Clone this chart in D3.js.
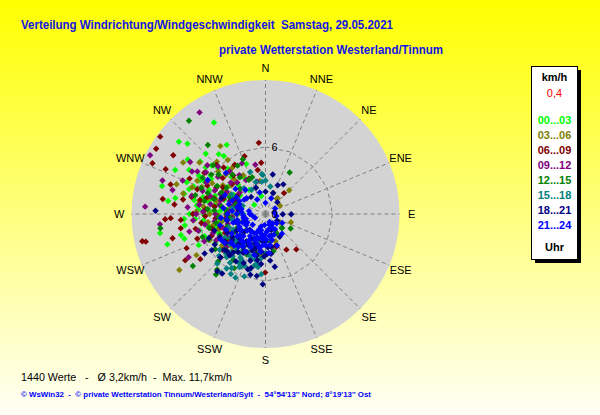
<!DOCTYPE html>
<html>
<head>
<meta charset="utf-8">
<script src="https://cdn.jsdelivr.net/npm/d3@7"></script>
<style>
  body { margin: 0; }
  svg { display: block; font-family: "Liberation Sans", Arial, sans-serif; }
</style>
</head>
<body>
<script>
// chart values: [direction in deg, speed in km/h]
const lime00_03 = [[330.6,9.4],[309.8,10.1],[312,9.4],[330.7,7.1],[315.3,7.6],[324.3,6.4],[308.8,7.5],[339,4.8],[285.1,9.6],[277.6,8.8],[259.7,9.6],[252.8,9.2],[253,7.6],[256,7.8],[266.5,7.3],
  [297,6.6],[293,5.5],[310,5.4],[309,4.1],[280,4.6],[281,6.5],[269,5.5],[289,3.9],[301,3.3],[279,2.4],[270,6.8],[262,7.3],[256,6.1],[260,4.2],[330,3.7],[326,2.6],[312,6.5],[300,7.9],[320,5.3],[254,2.6],[309,1.3],[347,1.65],
  [290,4.8],[275,4],[285,5.8],[300,5],[318,4.5],[265,3.2],[295,2.8],[305,6],[272,5],[283,3],[248,4.5],[240,5.2],[305,8.5],[296,9],[288,7.2],
  [298,6.2],[303,5.8],[291,6.9],[284,7.5],[277,6.2],[271,4.3],[264,5.6],[258,5.2],[250,5.8],[245,6.6],[286,5.1],[294,4.4],[302,4.3],[314,5.9],[322,6.8],[317,3.6],[306,2.8],[288,2.2],[276,3.4],[268,2.9],[262,3.8],[255,4.6],[280,8.2],[292,7.6],[300,6.9],[308,6.8],[282,5.2],[274,6.0],[266,6.3],[296,3.6]];
const olive03_06 = [[326.4,7.3],[325,5.9],[302,8.7],[317,6.4],[288.5,8.4],[237,9.2],[239.2,7.2],[187.4,3.7],[38,1.8],[107.9,2.4],[36,1.7],[159.7,2.6],
  [300,5.5],[285,4.5],[270,5],[310,4],[295,3],[260,4],[250,3.5],[275,2.5],[320,3],[340,2.5],[245,5.5],[265,6.5],[230,3],[280,6],[305,6.5],[290,7],[315,5],[330,4],[350,3],[20,2],[60,1.5],[120,1.5],[200,2.5],[215,3.5],[255,2],[272,3.5],[298,4.2],[282,3.2],[262,5.2],[308,2.2],[225,4.2],[150,1.8],[45,3.0],
  [293,6.2],[286,5.3],[279,4.7],[268,4.2],[258,4.8],[304,4.6],[312,5.7],[299,3.6],[289,2.6],[277,5.6],[266,3.0],[252,4.4],[318,4.2],[284,7.6],[296,6.8],[308,7.5],[272,6.2],[244,3.6],[234,4.8],[324,5.1]];
const maroon06_09 = [[354.6,6.4],[306.3,11.7],[300.8,11.4],[302.5,9.8],[294.2,11.1],[294.2,9.8],[287.3,8.9],[278.3,9.3],[355.2,4.6],[257.5,11.3],[257,11.0],[255.4,8.6],[246.6,7.7],[267,9.0],[267.5,8.5],[240,8.3],[235.3,7.1],[180.3,5.25],[162.6,3.0],[149.6,3.7],[139,4.2],[41.5,2.5],[161.9,3.1],[260.4,7.7],
  [300,6],[285,5.5],[270,6.5],[255,5],[310,5],[290,4],[275,3.5],[320,4.5],[335,3.5],[260,3],[245,4],[230,5],[220,4],[280,7.5],[295,7.5],[265,4.5],[250,6.5],[305,3],[340,5.5],[195,3.5],[283,6.8],[298,5],[272,2.5],[315,6.2],[262,5.8],[292,3],[240,3],[350,4],
  [304,6.6],[296,5.8],[287,4.8],[278,4.6],[268,5.4],[258,6.4],[248,5.2],[312,4.0],[302,4.5],[290,6.5],[282,6.0],[274,5.4],[264,3.6],[254,4.2],[236,4.2],[226,5.6],[318,5.6],[328,5.2],[294,3.4],[286,2.4],[276,8.2],[266,7.6]];
const purple09_12 = [[327,10.85],[297,11.6],[304.6,8.2],[348.3,4.5],[288,9.7],[284.5,8.6],[273.5,10.8],[264.4,9.5],[240.6,7.9],[257,7.0],
  [305,6.5],[315,6],[290,6],[280,5],[270,4.5],[300,4],[320,5],[330,3.5],[260,5.5],[250,5],[240,4],[230,4.5],[285,3],[310,3],[275,7],[295,5],[265,6.5],[345,3],[225,3.5],[200,3],[302,7.2],[292,8],[278,6],[255,3.5],[312,4.2],[268,3.5],[287,4.2],[246,6],[335,5],
  [298,6.0],[288,5.2],[281,4.2],[272,5.6],[262,4.6],[252,4.0],[308,5.4],[318,3.8],[294,4.4],[276,3.2],[284,6.8],[300,7.6],[270,6.2],[256,6.2],[242,5.0],[326,4.2],[290,3.4],[264,3.0],[234,3.6],[310,6.8]];
const green12_15 = [[320.6,10.8],[320.1,8.05],[313,6.4],[337.5,5.3],[30.2,4.3],[262.3,9.5],[234.4,8.0],[219.3,7.0],[221,6.6],[129.4,1.9],[131.3,1.95],[167.8,3.4],
  [300,5],[290,5.5],[280,4],[270,3.5],[310,5.5],[325,4],[260,4.5],[245,4.5],[235,5.5],[250,6],[215,5],[225,6],[285,6.5],[300,6.5],[330,5],[340,3.5],[205,4],[190,3.5],[270,2.5],[255,2.5],[170,2.5],[150,2],[295,3.5],[315,3.2],[275,5.2],[240,3.2],[230,2.2],[120,2.6],
  [296,4.4],[286,4.8],[276,3.6],[266,4.2],[256,5.2],[246,5.6],[304,4.2],[306,6.0],[292,6.2],[282,5.6],[274,4.6],[264,3.2],[252,3.6],[238,4.2],[228,4.8],[218,4.2],[210,5.6],[320,4.6],[334,3.4],[280,3.0],[288,2.8],[244,2.8]];
const teal15_18 = [[224.2,6.2],[215.5,6.0],[206.3,5.3],[198.7,5.9],[188.9,4.5],[205.2,6.3],[212,5.7],[205,5.2],[192,4.7],[184,5.4],[354.7,3.6],[353.4,2.9],[217,6.6],[356,3.5],[343,3.0],
  [210,4.5],[220,4],[230,3.5],[200,4],[215,3],[240,3],[225,5],[195,3],[205,2.5],[235,4.5],[250,3.5],[260,3],[245,2],[220,2],[190,2],[180,3.5],[270,2],[280,3],[300,3.5],[320,3],[330,2.5],[340,4],[0,3],[10,2.5],[212,3.8],[228,2.8],[198,4.2],[208,5],[218,4.8],[186,4],[232,5.2],[202,3.4],[265,4],[290,2.2],
  [222,4.6],[214,4.2],[206,3.8],[198,3.4],[192,4.2],[226,3.6],[236,3.8],[244,3.2],[208,4.6],[216,5.4],[202,5.0],[196,5.2],[188,4.8],[230,4.2],[240,4.2],[212,3.2],[204,3.0],[194,2.6],[218,3.4],[228,5.6],[210,6.2],[222,5.2]];
const navy18_21 = [[197.7,5.2],[174.3,4.2],[182.2,6.3],[237,6.5],[220.1,6.7],[216,6.6],[10.4,3.6],[31,3.1],[90.9,1.55],[90.7,2.3],[148,2.4],[271.7,9.85],[23,2.8],
  [200,3.5],[210,4],[190,3],[185,4.5],[220,4.5],[230,4],[195,5],[205,2.5],[215,3],[180,2.5],[170,3],[240,3],[250,2],[225,2],[165,2],[200,1.5],[160,1.5],[260,3.5],[280,2.5],[300,3],[320,2],[340,2.5],[0,2],[20,2],[45,1.5],[120,1.2],[192,3.8],[178,3.6],[208,3.2],[235,3.6],[188,5.6],[212,5],[170,4.8],[255,2.8],[230,2.5],[290,4.2],
  [206,3.8],[196,3.2],[186,3.4],[176,3.0],[214,3.6],[222,3.6],[228,3.2],[198,4.4],[204,4.8],[190,4.2],[182,3.8],[172,3.6],[216,4.2],[226,4.8],[236,4.4],[244,3.8],[210,2.6],[200,2.8],[188,2.4],[194,5.6],
  [239,5.3],[229,4.9],[247,5.5],[221,4.9],[234,4.4],[243,4.6],[226,5.6],[252,4.8],[236,5.8],[232,3.8]];
const blue21_24 = [[270,1.4],[238,2.7],[203,2.5],[183,1.9],[304,2.3],[151,1.1],[118,1.7],[197.6,2.3],[178,2.3],[142,1.06],[190,3.1],[208.6,3.0],[316,5.1],[300.5,6.0],[200,2.2],[208,3.8],[153,0.8],[160,1.0],[153,1.45],[195,1.5],
  [220,2],[230,1.5],[250,1],[260,2],[280,1.5],[290,2.5],[240,3.5],[215,3.5],[200,1.2],[185,2.8],[170,2],[160,3],[140,2.3],[130,1.3],[100,1],[80,0.8],[60,1],[330,1.5],[310,3.5],[320,2.8],[295,4],[275,3],[255,3],[265,4],[235,4.5],[225,2.8],[205,1.8],[195,3.8],[175,3.5],[185,1],[0,1],[345,2],[20,1.5],[250,2.2],[270,2.6],[285,3.4],[245,1.8],[215,2.4],[190,2.2],[232,3.2],[262,3.5],[300,3],[225,4],
  [212,2.8],[222,3.2],[228,2.2],[236,2.6],[244,2.6],[252,2.6],[258,2.6],[266,2.0],[276,2.2],[284,2.6],[292,3.2],[204,3.2],[196,2.8],[188,3.4],[180,2.8],[172,2.8],[166,2.4],[158,2.0],[148,1.6],[240,2.0],[230,3.0],[218,3.2],[210,2.0],[202,1.5],[192,1.8],[186,2.2],[176,1.6],[168,1.4],[256,1.8],[264,1.2],[278,3.8],[248,3.8],[256,4.2],[270,3.4],[282,2.2],[296,2.6],[310,2.2],[240,4.6],[230,4.0],[220,3.8]];

const timeBins = ["00...03", "03...06", "06...09", "09...12", "12...15", "15...18", "18...21", "21...24"];
const binColors = ["#00ff00", "#808000", "#800000", "#800080", "#008000", "#008080", "#000080", "#0000ff"];
const binPoints = [lime00_03, olive03_06, maroon06_09, purple09_12, green12_15, teal15_18, navy18_21, blue21_24];
const compass = ["N","NNE","NE","ENE","E","ESE","SE","SSE","S","SSW","SW","WSW","W","WNW","NW","NNW"];
const ringTicks = [0, 6];
const calmValue = "0,4";

// constants
const width = 600, height = 415;
const cx = 265.5, cy = 214;
const outerR = 134;

const svg = d3.select("body").append("svg")
    .attr("width", width)
    .attr("height", height);

// background gradient
const grad = svg.append("defs").append("linearGradient")
    .attr("id", "bg").attr("x1", 0).attr("y1", 0).attr("x2", 0).attr("y2", 1);
grad.append("stop").attr("offset", "0%").attr("stop-color", "#ffff00");
grad.append("stop").attr("offset", "100%").attr("stop-color", "#fffff6");
svg.append("rect").attr("width", width).attr("height", height).attr("fill", "url(#bg)");

// scales
const r = d3.scaleLinear().domain([0, 12]).range([0, outerR]);
const px = (dir, v) => cx + r(v) * Math.sin(dir * Math.PI / 180);
const py = (dir, v) => cy - r(v) * Math.cos(dir * Math.PI / 180);

// plot disk
svg.append("circle").attr("cx", cx).attr("cy", cy).attr("r", outerR).attr("fill", "#d3d3d3");

const dirs = d3.range(16).map(i => i * 22.5);
const grid = svg.append("g")
    .attr("fill", "none")
    .attr("stroke", "#808080")
    .attr("stroke-dasharray", "4,3");

grid.selectAll("line")
    .data(dirs)
    .join("line")
    .attr("x1", cx).attr("y1", cy)
    .attr("x2", d => px(d, 12)).attr("y2", d => py(d, 12));

grid.append("path")
    .attr("d", d3.line()(dirs.concat([0]).map(d => [px(d, 6), py(d, 6)])));

// points, drawn in time order
const marker = "M0,-3.2L3.2,0L0,3.2L-3.2,0Z";
binPoints.forEach((pts, i) => {
    svg.append("g")
        .selectAll("path")
        .data(pts)
        .join("path")
        .attr("d", marker)
        .attr("transform", d => `translate(${px(d[0], d[1])},${py(d[0], d[1])})`)
        .attr("fill", binColors[i]);
});

// ring labels
svg.selectAll(".ringlabel")
    .data(ringTicks)
    .join("text")
    .attr("class", "ringlabel")
    .attr("x", cx + 6)
    .attr("y", d => cy - r(d))
    .attr("dy", "0.35em")
    .attr("font-size", 11)
    .text(d => d);

// compass labels
svg.selectAll(".compass")
    .data(compass)
    .join("text")
    .attr("class", "compass")
    .attr("x", (d, i) => px(i * 22.5, 13.1))
    .attr("y", (d, i) => py(i * 22.5, 13.1))
    .attr("dy", "0.35em")
    .attr("text-anchor", "middle")
    .attr("font-size", 11)
    .text(d => d);

// title
svg.append("text")
    .attr("x", 21).attr("y", 29)
    .attr("font-size", 12.5).attr("font-weight", "bold").attr("fill", "#1414e6")
    .attr("textLength", 372).attr("lengthAdjust", "spacingAndGlyphs")
    .style("white-space", "pre")
    .text("Verteilung Windrichtung/Windgeschwindigkeit  Samstag, 29.05.2021");
svg.append("text")
    .attr("x", 219).attr("y", 54)
    .attr("font-size", 12.5).attr("font-weight", "bold").attr("fill", "#1414e6")
    .attr("textLength", 224).attr("lengthAdjust", "spacingAndGlyphs")
    .text("private Wetterstation Westerland/Tinnum");

// legend
const lg = svg.append("g");
lg.append("rect").attr("x", 535).attr("y", 70).attr("width", 46).attr("height", 193).attr("fill", "#000");
lg.append("rect").attr("x", 531.5).attr("y", 66.5).attr("width", 46).attr("height", 193)
    .attr("fill", "#fff").attr("stroke", "#000");
lg.append("text").attr("x", 554.5).attr("y", 77).attr("dy", "0.35em").attr("text-anchor", "middle")
    .attr("font-size", 11).attr("font-weight", "bold").text("km/h");
lg.append("text").attr("x", 554.5).attr("y", 93).attr("dy", "0.35em").attr("text-anchor", "middle")
    .attr("font-size", 11).attr("fill", "#ff0000").text(calmValue);
lg.selectAll(".bin")
    .data(timeBins)
    .join("text")
    .attr("class", "bin")
    .attr("x", 554.5)
    .attr("y", (d, i) => 120 + i * 15)
    .attr("dy", "0.35em")
    .attr("text-anchor", "middle")
    .attr("font-size", 11).attr("font-weight", "bold")
    .attr("fill", (d, i) => binColors[i])
    .text(d => d);
lg.append("text").attr("x", 554.5).attr("y", 247).attr("dy", "0.35em").attr("text-anchor", "middle")
    .attr("font-size", 11).attr("font-weight", "bold").text("Uhr");

// footer
svg.append("text")
    .attr("x", 21).attr("y", 381)
    .attr("font-size", 11.5)
    .attr("textLength", 211).attr("lengthAdjust", "spacingAndGlyphs")
    .style("white-space", "pre")
    .text("1440 Werte   -   Ø 3,2km/h  -  Max. 11,7km/h");
svg.append("text")
    .attr("x", 21).attr("y", 397)
    .attr("font-size", 8).attr("font-weight", "bold").attr("fill", "#0000ff")
    .attr("textLength", 350).attr("lengthAdjust", "spacingAndGlyphs")
    .style("white-space", "pre")
    .text("© WsWin32  -  © private Wetterstation Tinnum/Westerland/Sylt  -  54°54'13'' Nord; 8°19'13'' Ost");
</script>
</body>
</html>
